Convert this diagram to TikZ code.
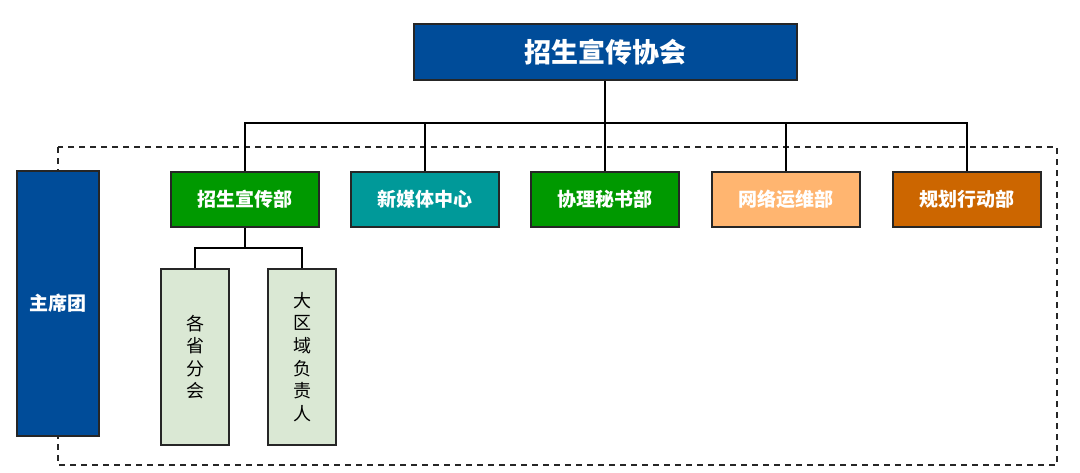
\documentclass[tikz,border=0pt]{standalone}
\usepackage{fontspec}
\usepackage{tikz}
\usetikzlibrary{calc}
\newfontfamily\cjk{Noto Sans CJK SC}

\definecolor{assocblue}{HTML}{004C99}
\definecolor{deptgreen}{HTML}{009900}
\definecolor{deptteal}{HTML}{009999}
\definecolor{deptpeach}{HTML}{FFB570}
\definecolor{deptorange}{HTML}{CC6600}
\definecolor{subgreen}{HTML}{DAE8D4}

\begin{document}
\begin{tikzpicture}[x=1pt, y=-1pt, line width=2pt,
        box_style/.style={rectangle,draw=black!85,inner sep=0pt},
        top_style/.style={box_style,fill=assocblue,text=white,minimum width=383pt,minimum height=56pt,font=\cjk\bfseries\fontsize{27}{30}\selectfont},
        dept_style/.style={box_style,text=white,minimum width=148pt,minimum height=55pt,font=\cjk\bfseries\fontsize{19}{22}\selectfont},
        side_style/.style={box_style,fill=assocblue,text=white,minimum width=82pt,minimum height=265pt,font=\cjk\bfseries\fontsize{19}{22}\selectfont},
        sub_style/.style={box_style,fill=subgreen,text=black,minimum width=68pt,minimum height=176pt,align=center,font=\cjk\fontsize{18}{22.6}\selectfont},
        edge_style/.style={draw=black, line width=2pt},
        group_style/.style={draw=black!85, line width=1.6pt, dash pattern=on 6pt off 5pt}]

        \useasboundingbox (0,0) rectangle (1080,472);

        \draw [group_style] (58,147) rectangle (1057,465);

        \node [top_style](top) at (605,52) {招生宣传协会};

        \node [side_style](side) at (58,303.5) {主席团};

        \node [dept_style,fill=deptgreen](n1) at (245,199.5) {招生宣传部};
        \node [dept_style,fill=deptteal](n2) at (425,199.5) {新媒体中心};
        \node [dept_style,fill=deptgreen](n3) at (605,199.5) {协理秘书部};
        \node [dept_style,fill=deptpeach](n4) at (786,199.5) {网络运维部};
        \node [dept_style,fill=deptorange](n5) at (967,199.5) {规划行动部};

        \node [sub_style](s1) at (195,357) {各\\省\\分\\会};
        \node [sub_style](s2) at (302,357) {大\\区\\域\\负\\责\\人};

        \coordinate (bus) at (605,123);
        \coordinate (sub) at (245,248);

        \draw [edge_style] (top) -- (n3);
        \draw [edge_style] (n1.north) -- (n1.north |- bus) -- (n5.north |- bus) -- (n5.north);
        \draw [edge_style] (n2.north) -- (n2.north |- bus);
        \draw [edge_style] (n4.north) -- (n4.north |- bus);

        \draw [edge_style] (n1.south) -- (sub);
        \draw [edge_style] (s1.north) |- (sub) -| (s2.north);

\end{tikzpicture}
\end{document}
